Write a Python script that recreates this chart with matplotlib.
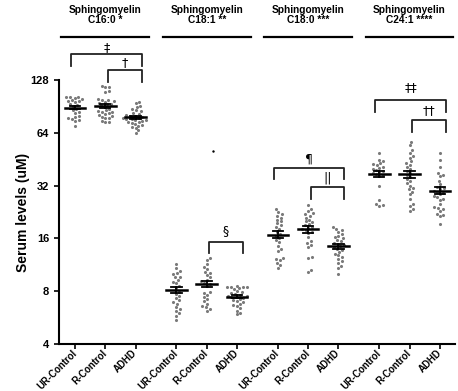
import numpy as np
import matplotlib
matplotlib.use('Agg')
import matplotlib.pyplot as plt
from matplotlib.ticker import NullLocator

plt.rcParams['font.family'] = ['Liberation Sans', 'DejaVu Sans']

# groups and lipid species
groups = ['UR-Control', 'R-Control', 'ADHD']
lipids = ['C16:0', 'C18:1', 'C18:0', 'C24:1']
stars = ['*', '**', '***', '****']

# serum levels (uM)
c160_ur = [103, 102, 101, 100, 103, 97, 96, 97, 98, 92, 93, 91, 88, 86, 84, 83,
           79, 80, 78, 76, 75, 77, 70]
c160_r = [118, 116, 117, 111, 110, 93, 100, 95, 99, 98, 97, 96, 94, 92, 90, 88,
          86, 85, 84, 84, 83, 82, 81, 80, 79, 78, 78, 75, 74, 74]
c160_adhd = [96, 95, 91, 90, 87, 86, 85, 83, 82, 81, 80, 80, 79, 78, 78, 77, 77,
             76, 76, 75, 74, 74, 73, 72, 71, 70, 69, 68, 66, 64]

c181_ur = [11.4, 10.8, 10.4, 10.1, 10.0, 9.7, 9.6, 9.3, 9.0, 8.9, 8.6, 8.3, 7.9,
           7.7, 7.5, 7.3, 7.1, 6.9, 6.8, 6.5, 6.3, 6.2, 6.0, 5.8, 5.5]
c181_r = [12.3, 12.0, 11.4, 11.0, 10.7, 10.3, 10.1, 9.9, 9.6, 9.3, 9.1, 8.9, 8.8,
          8.6, 7.9, 7.8, 7.6, 7.4, 7.2, 7.0, 6.8, 6.6, 6.5, 6.3, 6.2]
c181_adhd = [8.6, 8.5, 8.5, 8.4, 8.4, 8.3, 8.2, 8.0, 7.9, 7.8, 7.7, 7.6, 7.5, 7.5,
             7.4, 7.4, 7.3, 7.2, 7.1, 7.0, 6.9, 6.8, 6.7, 6.6, 6.4, 6.2, 6.0, 5.9]
c181_r_outlier = [50.4]

c180_ur = [23.5, 22.5, 22, 21.5, 21, 20.5, 20, 19.5, 19, 18.6, 18.2, 17.5, 17,
           16.6, 16, 15.6, 15.2, 14.5, 14.0, 13.6, 12.4, 12.2, 12.0, 11.6, 11.3, 10.9]
c180_r = [24.8, 23.5, 23, 22.2, 22, 21.5, 21, 20.5, 20, 19.8, 19.4, 19, 18.7, 18.4,
          18.1, 17.8, 17.5, 17.2, 16.2, 15.4, 15.0, 14.6, 14.3, 12.6, 12.4, 10.6, 10.3]
c180_adhd = [18.5, 18.2, 17.9, 17.5, 17.0, 16.6, 16.3, 16.0, 15.7, 15.4, 15.1, 14.9,
             14.6, 14.4, 14.2, 14.0, 13.7, 13.4, 13.1, 12.8, 12.5, 12.2, 11.9, 11.6,
             11.2, 10.9, 10.0]

c241_ur = [49, 45, 44, 43, 42.5, 42, 41, 40.5, 40, 39.5, 39, 38.5, 38, 37.5, 37,
           36.5, 32, 26.5, 25, 24.7, 24.5]
c241_r = [57, 54.5, 51, 49, 47, 46, 44, 43, 42, 41, 40, 39, 38, 37, 36, 35, 34, 33,
          32, 31, 30.5, 29.5, 28.5, 27, 25, 24.5, 23.5, 23]
c241_adhd = [49, 45, 41, 38, 37, 36.5, 34, 32.5, 31.5, 31, 30.5, 30, 29.5, 29, 28.5,
             28, 27.5, 27, 26.5, 25, 24.3, 24, 23.5, 23, 22, 21.7, 21.4, 19.3]

series = [c160_ur, c160_r, c160_adhd, c181_ur, c181_r, c181_adhd,
          c180_ur, c180_r, c180_adhd, c241_ur, c241_r, c241_adhd]

# significance brackets: (group, cat_a, cat_b, symbol, level)
brackets = [(0, 0, 2, '\u2021', 0), (0, 1, 2, '\u2020', 1),
            (1, 1, 2, '\u00a7', 0),
            (2, 0, 2, '\u00b6', 0), (2, 1, 2, '||', 1),
            (3, 0, 2, '\u2021\u2021', 0), (3, 1, 2, '\u2020\u2020', 1)]

group_step = 3.35
pos = [g * group_step + k for g in range(len(lipids)) for k in range(len(groups))]

fig = plt.figure(figsize=(4.58, 3.91), dpi=100)
ax = fig.add_axes([0.1288, 0.1202, 0.8646, 0.6752])
ax.set_yscale('log', base=2)
ax.set_xlim(-0.53, 12.55)
ax.set_ylim(4, 128)


def swarm(vals, x0, d=3.7):
    # simple beeswarm in pixel space
    ys = ax.transData.transform(np.column_stack([np.full(len(vals), x0), vals]))[:, 1]
    ppu = ax.bbox.width / (ax.get_xlim()[1] - ax.get_xlim()[0])
    xs = np.zeros(len(vals))
    placed = []
    for i in np.argsort(ys):
        y = ys[i]
        cands = [0.0]
        for px, py in placed:
            dy = y - py
            if abs(dy) < d:
                dx = np.sqrt(d * d - dy * dy)
                cands += [px + dx, px - dx]
        cands.sort(key=abs)
        for c in cands:
            if all((c - px) ** 2 + (y - py) ** 2 >= d * d - 1e-6 for px, py in placed):
                xs[i] = c
                break
        placed.append((xs[i], y))
    return x0 + xs / ppu


for x0, vals in zip(pos, series):
    vals = np.array(vals, dtype=float)
    xs = swarm(vals, x0)
    ax.scatter(xs, vals, s=5, color='#7a7a7a', linewidths=0, zorder=2)
    m = vals.mean()
    sem = vals.std(ddof=1) / np.sqrt(len(vals))
    ax.plot([x0 - 0.34, x0 + 0.34], [m, m], color='black', lw=1.8, zorder=3)
    ax.plot([x0, x0], [m - sem, m + sem], color='black', lw=1.3, zorder=3)
    for e in (m - sem, m + sem):
        ax.plot([x0 - 0.17, x0 + 0.17], [e, e], color='black', lw=1.3, zorder=3)

ax.scatter([pos[4] + 0.2], c181_r_outlier, s=3, color='black', linewidths=0)

# titles with lines above each lipid group
for g, (lip, st) in enumerate(zip(lipids, stars)):
    xc = pos[g * 3 + 1]
    ax.plot([xc - 1.45, xc + 1.45], [225, 225], color='black', lw=1.6, clip_on=False)
    ax.text(xc, 262, 'Sphingomyelin\n' + lip + ' ' + st, ha='center', va='bottom',
            fontsize=7.3, fontweight='bold', linespacing=1.1)

# significance brackets
levels = {0: [(180, 154, 195), (146, 125, 160)],
          1: [(15.2, 13.2, 17.8)],
          2: [(40.3, 34.8, 45.5), (31.5, 26.8, 35.5)],
          3: [(98.5, 84, 116), (75.8, 64.7, 86)]}
for g, a, b, sym, lev in brackets:
    top, leg, ty = levels[g][lev]
    x1 = pos[g * 3 + a] - (0.13 if a == 0 else -0.08)
    x2 = pos[g * 3 + b] + 0.2
    ax.plot([x1, x1, x2, x2], [leg, top, top, leg], color='#222222', lw=1.3,
            clip_on=False)
    ax.text((x1 + x2) / 2, ty, sym, ha='center', va='center', fontsize=9,
            family=['DejaVu Sans'])

ax.spines['top'].set_visible(False)
ax.spines['right'].set_visible(False)
ax.spines['left'].set_linewidth(1.5)
ax.spines['bottom'].set_linewidth(1.5)

ax.set_yticks([4, 8, 16, 32, 64, 128])
ax.set_yticklabels(['4', '8', '16', '32', '64', '128'], fontsize=8, fontweight='bold')
ax.yaxis.set_minor_locator(NullLocator())
ax.set_xticks(pos)
ax.set_xticklabels(groups * len(lipids), rotation=45, ha='right', va='center',
                   rotation_mode='anchor', fontsize=6.9, fontweight='bold')
ax.tick_params(direction='out', length=3.5, width=1.2)
ax.tick_params(axis='x', pad=2)
ax.set_ylabel('Serum levels (uM)', fontsize=10, fontweight='bold', labelpad=0.5)

plt.savefig('out.png', dpi=100)
